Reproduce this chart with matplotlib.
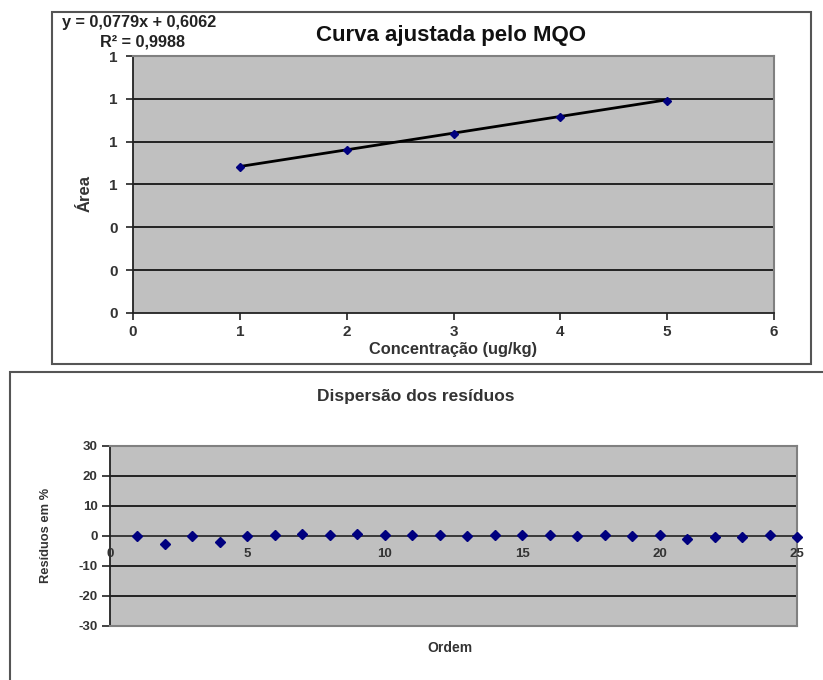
import matplotlib
matplotlib.use("Agg")
import matplotlib.pyplot as plt
import matplotlib.patches as mpatches
import numpy as np

plt.rcParams['font.family'] = ['Liberation Sans', 'DejaVu Sans']
plt.rcParams['axes.unicode_minus'] = False

# ---- data ----
conc = [1, 2, 3, 4, 5]
area = [0.682, 0.762, 0.838, 0.916, 0.990]
slope = 0.0779
intercept = 0.6062
r2_text = "R² = 0,9988"
eq_text = "y = 0,0779x + 0,6062"

ordem = list(range(1, 26))
residuos = [0.1, -2.5, 0.1, -2.0, 0.0, 0.3, 0.7, 0.5, 0.6, 0.3,
            0.2, 0.5, 0.0, 0.2, 0.4, 0.4, 0.0, 0.4, 0.1, 0.5,
            -1.0, -0.2, -0.4, 0.2, -0.4]

top_yticks = [0, 0.2, 0.4, 0.6, 0.8, 1.0, 1.2]
top_xticks = [0, 1, 2, 3, 4, 5, 6]
bot_yticks = [-30, -20, -10, 0, 10, 20, 30]
bot_xticks = [0, 5, 10, 15, 20, 25]

W, H = 823, 680
fig = plt.figure(figsize=(W / 100, H / 100), dpi=100)
fig.patch.set_facecolor('white')

def fx(px):
    return px / W

def fy(py):
    return 1 - py / H

def add_ax(l, t, r, b):
    return fig.add_axes([fx(l), fy(b), fx(r) - fx(l), (b - t) / H])

# outer frames
fig.add_artist(mpatches.Rectangle((fx(52), fy(364)), fx(811) - fx(52), (364 - 12) / H,
                                  transform=fig.transFigure, fill=False,
                                  edgecolor='#555555', lw=1.5))
fig.add_artist(mpatches.Rectangle((fx(10), fy(690)), fx(840) - fx(10), (690 - 372) / H,
                                  transform=fig.transFigure, fill=False,
                                  edgecolor='#555555', lw=1.5, clip_on=False))

gray = '#C0C0C0'
frame = '#808080'
navy = '#00007F'
txt = '#333333'

# ---- top chart ----
ax1 = add_ax(133, 56, 774, 313)
ax1.set_facecolor(gray)
ax1.set_xlim(0, 6)
ax1.set_ylim(0, 1.2)
ax1.set_yticks(top_yticks)
ax1.set_yticklabels([f"{v:.0f}" for v in top_yticks])
ax1.set_xticks(top_xticks)
ax1.set_xticklabels([str(v) for v in top_xticks])
for v in top_yticks[1:-1]:
    ax1.axhline(v, color='#222222', lw=1.4, zorder=1)
xs = np.array([conc[0], conc[-1]])
ax1.plot(xs, slope * xs + intercept, color='black', lw=2, zorder=2)
ax1.plot(conc, area, linestyle='none', marker='D', ms=4.5, color=navy, zorder=3)
for s in ['top', 'right']:
    ax1.spines[s].set_color(frame)
    ax1.spines[s].set_linewidth(1.5)
for s in ['left', 'bottom']:
    ax1.spines[s].set_color('#222222')
    ax1.spines[s].set_linewidth(1.3)
ax1.tick_params(axis='both', direction='out', length=5, width=1.2, color='#222222',
                labelsize=11, labelcolor=txt)
ax1.tick_params(axis='y', pad=6)
ax1.tick_params(axis='x', pad=4)
for lab in ax1.get_xticklabels() + ax1.get_yticklabels():
    lab.set_fontweight('bold')
ax1.set_xlabel("Concentração (ug/kg)", fontsize=11.8, fontweight='bold', color=txt, labelpad=2)
fig.text(fx(85), fy(194), "Área", ha='center', va='center', rotation=90,
         fontsize=12, fontweight='bold', color=txt)
fig.text(fx(451), fy(35), "Curva ajustada pelo MQO", ha='center', va='center',
         fontsize=16, fontweight='bold', color='#111111')
fig.text(fx(62), fy(22), eq_text, ha='left', va='center', fontsize=11.7,
         fontweight='bold', color='#222222')
fig.text(fx(142), fy(42), r2_text, ha='center', va='center', fontsize=11.7,
         fontweight='bold', color='#222222')

# ---- bottom chart ----
ax2 = add_ax(110, 446, 797, 626)
ax2.set_facecolor(gray)
ax2.set_xlim(0, 25)
ax2.set_ylim(-30, 30)
ax2.set_yticks(bot_yticks)
ax2.set_yticklabels([str(v) for v in bot_yticks])
ax2.set_xticks(bot_xticks)
for v in [-20, -10, 10, 20]:
    ax2.axhline(v, color='#222222', lw=1.4, zorder=1)
ax2.axhline(0, color='#222222', lw=1.2, zorder=1)
ax2.plot(ordem, residuos, linestyle='none', marker='D', ms=5.5, color=navy,
         zorder=3, clip_on=False)
for s in ['top', 'right', 'bottom']:
    ax2.spines[s].set_color(frame)
    ax2.spines[s].set_linewidth(1.5)
ax2.spines['left'].set_color('#222222')
ax2.spines['left'].set_linewidth(1.3)
ax2.tick_params(axis='y', direction='out', length=6, width=1.2, color='#222222',
                labelsize=9.5, labelcolor=txt, pad=3)
ax2.tick_params(axis='x', length=0)
for lab in ax2.get_yticklabels():
    lab.set_fontweight('bold')
ax2.set_xticklabels([])
for v in bot_xticks:
    ax2.text(v, -3.9, str(v), ha='center', va='top', fontsize=9.5,
             fontweight='bold', color=txt, zorder=4)
fig.text(fx(450), fy(648), "Ordem", ha='center', va='center', fontsize=10,
         fontweight='bold', color=txt)
fig.text(fx(46), fy(535), "Resíduos em %", ha='center', va='center', rotation=90,
         fontsize=9.3, fontweight='bold', color=txt)
fig.text(fx(416), fy(397), "Dispersão dos resíduos", ha='center', va='center',
         fontsize=12.5, fontweight='bold', color=txt)

fig.savefig("out.png", dpi=100)
